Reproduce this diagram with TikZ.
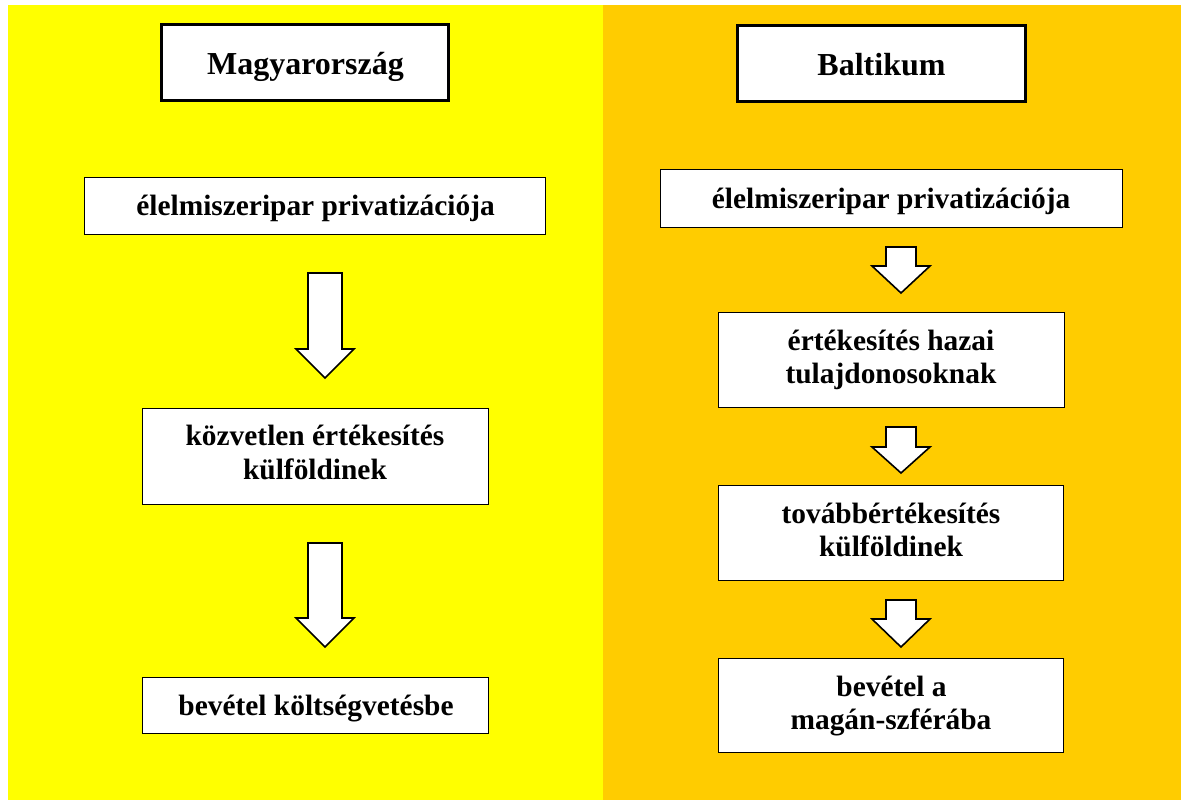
\documentclass[tikz,border=0pt]{standalone}
\usepackage{fontspec}
\setmainfont{Liberation Serif}
\definecolor{bgyellow}{HTML}{FFFF00}
\definecolor{bgorange}{HTML}{FFCC00}
\tikzset{
  titlebox/.style={draw=black, line width=3.5pt, fill=white, inner sep=0pt},
  stepbox/.style={draw=black, line width=1.8pt, fill=white, inner sep=0pt},
  titletext/.style={anchor=base, inner sep=0pt, font=\fontsize{32}{38}\selectfont\bfseries},
  steptext/.style={anchor=base, inner sep=0pt, font=\fontsize{29.4}{33.5}\selectfont\bfseries},
  blockarrow/.style={draw=black, line width=1.6pt, fill=white, line join=miter}
}
% #1 x-centre, #2 top, #3 head start, #4 tip, #5 shaft half width, #6 head half width
\newcommand\dnblockarrow[6]{%
  \draw[blockarrow] (#1-#5,#2) -- (#1+#5,#2) -- (#1+#5,#3) -- (#1+#6,#3)
    -- (#1,#4) -- (#1-#6,#3) -- (#1-#5,#3) -- cycle;}
\begin{document}
\begin{tikzpicture}[x=1pt,y=-1pt]
\useasboundingbox (0,0) rectangle (1181,807);
\fill[white] (0,0) rectangle (1181,807);
\fill[bgyellow] (8,5) rectangle (603,800);
\fill[bgorange] (603,5) rectangle (1181,800);

% left column boxes
\node[titlebox, minimum width=287pt, minimum height=76pt] (L1) at (305,62.5) {};
\node[stepbox, minimum width=461pt, minimum height=57pt] (L2) at (315,206) {};
\node[stepbox, minimum width=346pt, minimum height=96pt] (L3) at (315.5,456.5) {};
\node[stepbox, minimum width=346pt, minimum height=56pt] (L4) at (315.5,705.5) {};
% left column texts
\node[titletext] (L1t) at (305.5,74) {Magyarország};
\node[steptext] (L2t) at (315.5,215.5) {élelmiszeripar privatizációja};
\node[steptext] (L3a) at (315,445) {közvetlen értékesítés};
\node[steptext] (L3b) at (315,479) {külföldinek};
\node[steptext] (L4t) at (316,715) {bevétel költségvetésbe};

% right column boxes
\node[titlebox, minimum width=288pt, minimum height=76pt] (R1) at (881.5,63.5) {};
\node[stepbox, minimum width=462pt, minimum height=58pt] (R2) at (891.5,198.5) {};
\node[stepbox, minimum width=346pt, minimum height=95pt] (R3) at (891.5,360) {};
\node[stepbox, minimum width=345pt, minimum height=95pt] (R4) at (891,533) {};
\node[stepbox, minimum width=345pt, minimum height=94pt] (R5) at (891,705.5) {};
% right column texts
\node[titletext] (R1t) at (881.5,75) {Baltikum};
\node[steptext] (R2t) at (891,208) {élelmiszeripar privatizációja};
\node[steptext] (R3a) at (891,350) {értékesítés hazai};
\node[steptext] (R3b) at (891,383) {tulajdonosoknak};
\node[steptext] (R4a) at (891,523) {továbbértékesítés};
\node[steptext] (R4b) at (891,556) {külföldinek};
\node[steptext] (R5a) at (891.5,696) {bevétel a};
\node[steptext] (R5b) at (891,729) {magán-szférába};

% block arrows
\dnblockarrow{325}{273}{349}{378}{17}{29}
\dnblockarrow{325}{543}{618}{647}{17}{29}
\dnblockarrow{901}{247}{266}{293}{15}{29}
\dnblockarrow{901}{427}{447}{473}{15}{29}
\dnblockarrow{901}{600}{619}{647}{15}{29}
\end{tikzpicture}
\end{document}
